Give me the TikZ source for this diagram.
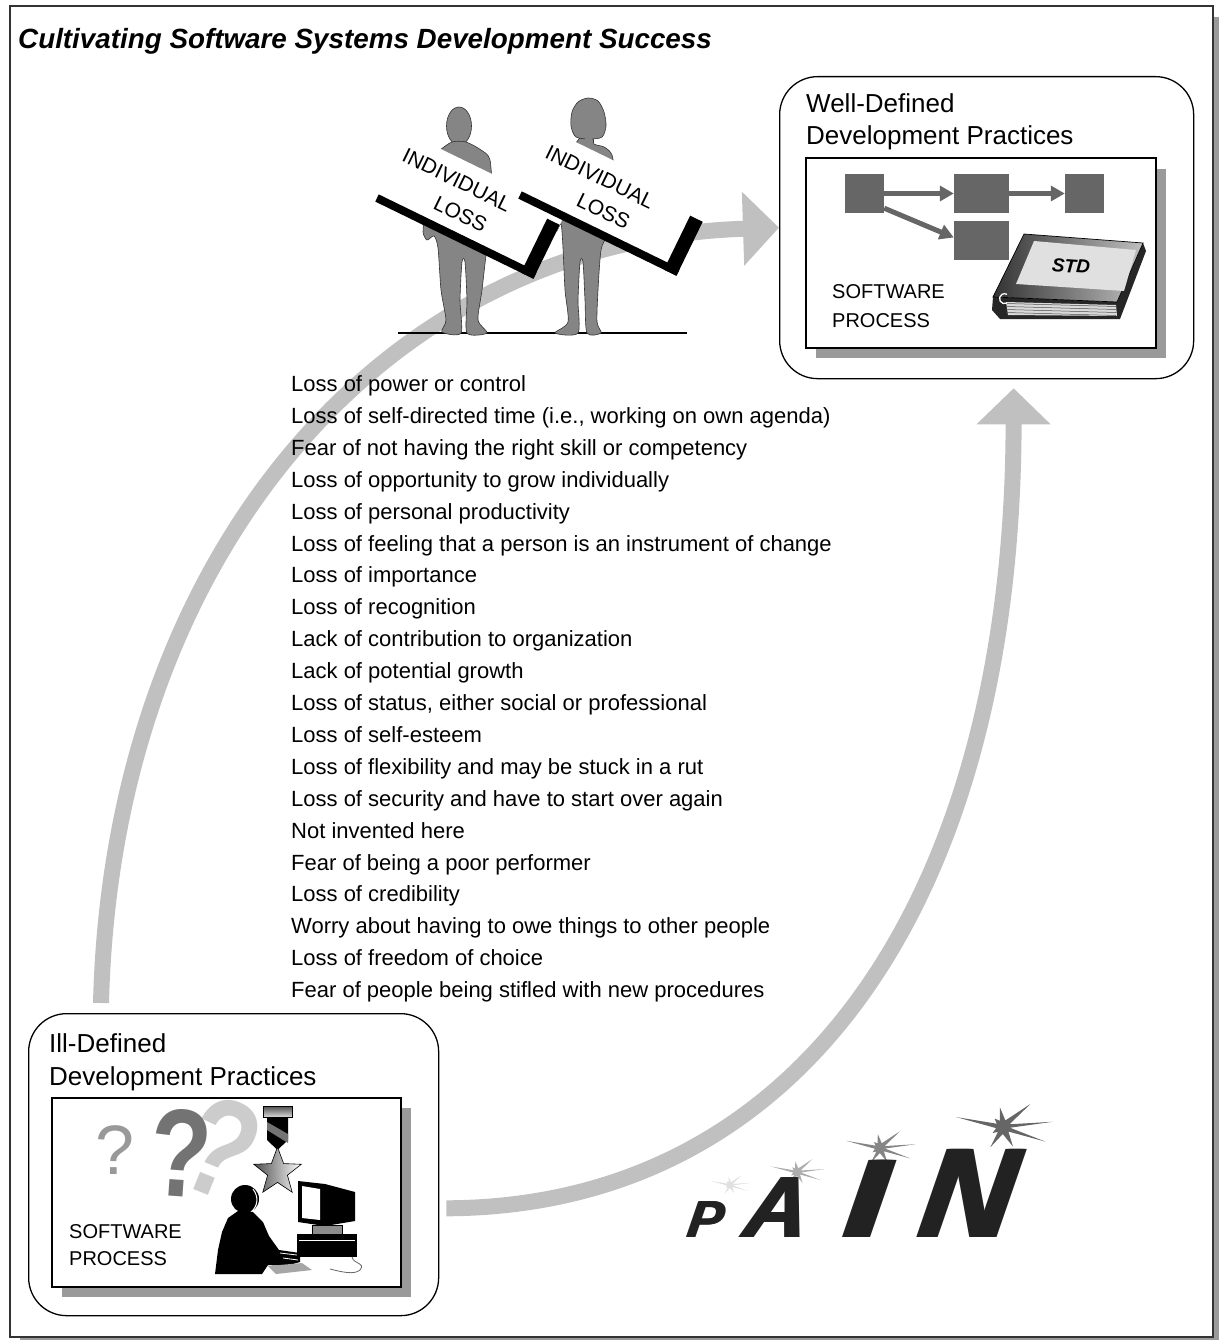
\documentclass[tikz,border=0pt]{standalone}
\usepackage{fontspec}
\setmainfont{Liberation Sans}
\usetikzlibrary{arrows.meta,shapes.geometric,calc}

\definecolor{bandgray}{HTML}{C0C0C0}
\definecolor{flowgray}{HTML}{666666}
\definecolor{figgray}{HTML}{858585}
\definecolor{shadowgray}{HTML}{9A9A9A}
\definecolor{framegray}{HTML}{333333}
\definecolor{inkblack}{HTML}{222222}

% a sign held by a person: white board, black lower edge and bracket
\newcommand\losssign[2]{%
  \begin{scope}[shift={#1}, rotate=-26]
    \fill[white] (0,-72) rectangle (176,0);
    \fill[black] (0,-4) rectangle (176,4);
    \fill[black] (162,-56) rectangle (176,4);
    \node[signtxt] (#2a) at (64,-51) {INDIVIDUAL};
    \node[signtxt] (#2b) at (82,-22) {LOSS};
  \end{scope}}

% irregular starburst above a letter
\newcommand\painburst[3]{%
  \begin{scope}[shift={#1}, scale=#2]
    \fill[#3] (354:50) -- (6:7) -- (19:45) -- (40:7) -- (63:22) -- (92:7)
      -- (122:24) -- (136:7) -- (150:12) -- (171:7) -- (192:48) -- (208:7)
      -- (225:12) -- (243:7) -- (261:20) -- (290:7) -- (320:36) -- (337:7) -- cycle;
  \end{scope}}

% heavy slanted letter: several slightly shifted copies
\newcommand\painletter[5]{% name, x, size, extra weight, letter
  \foreach \dx in {0,...,#4} {
    \node[painltr, font=\fontsize{#3}{#3}\selectfont\bfseries\itshape]
      (#1\dx) at ({#2+\dx},1237) {#5};
  }}

\begin{document}
\begin{tikzpicture}[x=1pt,y=-1pt,
  band/.style={draw=bandgray, line width=16, -{Triangle[length=36,width=72]}},
  box/.style={draw, line width=1.3, rounded corners=38, inner sep=0, anchor=north west},
  panel/.style={draw, line width=1.2, fill=white},
  sq/.style={fill=flowgray, inner sep=0},
  flow/.style={draw=flowgray, line width=5, -{Triangle[length=14,width=15]}},
  lbl/.style={anchor=base west, inner sep=0, font=\fontsize{26}{30}\selectfont},
  proclbl/.style={anchor=base west, inner sep=0, font=\fontsize{20}{24}\selectfont},
  listtxt/.style={anchor=base west, inner sep=0, font=\fontsize{22}{26}\selectfont},
  signtxt/.style={inner sep=0, transform shape, font=\fontsize{21}{23}\selectfont},
  personfig/.style={fill=figgray, draw=black!80, line width=0.6},
  painltr/.style={anchor=base west, inner sep=0, text=inkblack, xslant=0.15},
]
\useasboundingbox (0,0) rectangle (1219,1340);

% page frame with drop shadow
\fill[shadowgray] (20,1337) rectangle (1219,1340);
\fill[shadowgray] (1213,17) rectangle (1219,1340);
\draw[framegray, line width=2.5] (10,6) rectangle (1213,1337);

\node[anchor=base west, inner sep=0, font=\fontsize{27.8}{32}\selectfont\bfseries\itshape]
  (title) at (18,49) {Cultivating Software Systems Development Success};

% ---------- well-defined practices ----------
\node[box, minimum width=414, minimum height=302] (well) at (779,76) {};
\fill[shadowgray] (816,169) rectangle (1166,358);
\draw[panel] (806,158) rectangle (1156,348);
\node[lbl] (wellA) at (806,113) {Well-Defined};
\node[lbl] (wellB) at (806,145) {Development Practices};
\node[proclbl] (wsw1) at (832,298) {SOFTWARE};
\node[proclbl] (wsw2) at (832,327) {PROCESS};

\node[sq, minimum width=39, minimum height=39] (s1) at (864.5,193.5) {};
\node[sq, minimum width=55, minimum height=39] (s2) at (981.5,193.5) {};
\node[sq, minimum width=39, minimum height=39] (s3) at (1084.5,193.5) {};
\node[sq, minimum width=55, minimum height=39] (s4) at (981.5,240.5) {};
\draw[flow] (s1.east) -- (s2.west);
\draw[flow] (s2.east) -- (s3.west);
\draw[flow] ([yshift=5]s1.south east) -- ([yshift=3]s4.west);

% binder: page block, spine, cover and label
\fill[black!85] (993,297) -- (1117,302) -- (1143,243) -- (1146,251) -- (1120,319) -- (1000,319) -- (992,310) -- cycle;
\fill[black!15] (1006,302) -- (1116,305) -- (1117,316) -- (1008,315) -- cycle;
\foreach \k in {0,3,6,9} {
  \draw[black!70, line width=0.5] (1006,{303.5+\k}) -- (1116,{306.5+\k});
}
\shade[left color=black!80, right color=black!25, draw=black, line width=0.7]
  (1024,234) -- (1143,243) -- (1117,302) -- (993,297) -- cycle;
\fill[black!12] (1034,241) -- (1136,250) -- (1124,291) -- (1016,284) -- cycle;
\node[inner sep=0, rotate=-4, font=\fontsize{19}{19}\selectfont\bfseries\itshape] (std) at (1071,266) {STD};
\draw[white, line width=1.3] (1007,303) arc[start angle=60, end angle=300, radius=5];

% ---------- ill-defined practices ----------
\node[box, minimum width=410, minimum height=302] (ill) at (28,1013) {};
\fill[shadowgray] (62,1108) rectangle (411,1297);
\draw[panel] (52,1098) rectangle (401,1287);
\node[lbl] (illA) at (49,1052) {Ill-Defined};
\node[lbl] (illB) at (49,1085) {Development Practices};
\node[proclbl] (isw1) at (69,1238) {SOFTWARE};
\node[proclbl] (isw2) at (69,1265) {PROCESS};

% question marks
\node[inner sep=0, rotate=-22, text=black!20, font=\fontsize{140}{140}\selectfont\bfseries] (q3) at (222,1148) {\scalebox{0.8}[1]{?}};
\node[inner sep=0, rotate=-4, text=black!55, font=\fontsize{125}{125}\selectfont\bfseries] (q2) at (181,1153) {\scalebox{0.8}[1]{?}};
\node[inner sep=0, text=black!40, font=\fontsize{70}{70}\selectfont] (q1) at (115,1150) {?};

% medal
\shade[top color=black!70, bottom color=black!15, draw=black, line width=0.5] (263,1106) rectangle (292,1117);
\fill[black] (267,1117) -- (288,1117) -- (288,1140) -- (277.5,1150) -- (267,1140) -- cycle;
\fill[black!55] (267,1122) -- (267,1130) -- (288,1143) -- (288,1134) -- cycle;
\node[star, star points=5, star point ratio=2.4, minimum size=50, inner sep=0,
  draw, line width=0.6, left color=black!70, right color=white] (medal) at (277.5,1172) {};

% person at the computer
\fill[black] (245,1199) circle (14);
\draw[white, line width=1] (253,1189) .. controls (259,1197) and (258,1206) .. (251,1212);
\fill[black] (238,1211) -- (228,1218) -- (222,1232) -- (218,1250) -- (215,1274)
  -- (262,1274) -- (268,1265) -- (286,1266) -- (300,1262) -- (300,1253)
  -- (279,1250) -- (269,1236) -- (263,1222) -- (253,1212) -- cycle;
\draw[white, line width=0.8] (280,1253) -- (297,1255) (283,1258) -- (298,1260);
\fill[black!35] (268,1266) -- (302,1263) -- (312,1270) -- (276,1274) -- cycle;

% computer
\fill[black] (298,1181) -- (325,1184) -- (355,1192) -- (355,1221) -- (325,1226) -- (298,1222) -- cycle;
\fill[white] (302,1186) -- (320,1189) -- (320,1220) -- (302,1218) -- cycle;
\draw[black, fill=black!45, line width=0.6] (312,1225) rectangle (342,1234);
\fill[black] (297,1234) rectangle (357,1257);
\draw[white, line width=0.8] (299,1240) -- (355,1240);
\draw[black!60, line width=0.8] (352,1257) .. controls (354,1265) and (366,1262) .. (360,1270)
  .. controls (354,1275) and (342,1272) .. (330,1269);

% ---------- flow bands ----------
\draw[band] ($(ill.north west)+(73,-10)$) .. controls (112,560) and (380,240) .. (well.west);
\draw[band] ($(ill.south east)+(7,-108)$) .. controls (800,1207) and (1013,900) .. ($(well.south)+(27,9)$);

% ---------- list of losses ----------
\foreach \t [count=\i] in {
  {Loss of power or control},
  {Loss of self-directed time (i.e., working on own agenda)},
  {Fear of not having the right skill or competency},
  {Loss of opportunity to grow individually},
  {Loss of personal productivity},
  {Loss of feeling that a person is an instrument of change},
  {Loss of importance},
  {Loss of recognition},
  {Lack of contribution to organization},
  {Lack of potential growth},
  {Loss of status, either social or professional},
  {Loss of self-esteem},
  {Loss of flexibility and may be stuck in a rut},
  {Loss of security and have to start over again},
  {Not invented here},
  {Fear of being a poor performer},
  {Loss of credibility},
  {Worry about having to owe things to other people},
  {Loss of freedom of choice},
  {Fear of people being stifled with new procedures}} {
  \node[listtxt] (loss\i) at (291,{391.5+31.9*(\i-1)}) {\t};
}

% ---------- people carrying signs ----------
\draw[line width=2.5] (398,333) -- (687,333);

% man
\draw[personfig] (459,126) ellipse [x radius=12.5, y radius=19];
\draw[personfig] plot[smooth cycle, tension=0.45] coordinates {
  (452,142) (440,150) (431,158) (428,185) (425,215) (423,232) (427,240) (434,236)
  (438,248) (441,290) (446,320) (442,332) (461,333) (460,300) (462,262)
  (465,262) (467,300) (467,333) (487,333) (478,320) (482,290) (487,250)
  (494,240) (497,228) (493,200) (490,160) (481,150) (466,142)};
% woman
\draw[personfig] plot[smooth cycle, tension=0.45] coordinates {
  (582,136) (574,145) (564,150) (559,168) (555,200) (550,224) (556,232) (561,224)
  (563,248) (565,290) (568,322) (555,333) (578,333) (578,300) (580,262)
  (583,262) (585,300) (587,333) (601,333) (597,322) (598,290) (601,250)
  (607,236) (613,222) (615,180) (612,155) (604,147) (594,144) (593,136)};
\draw[personfig] plot[smooth cycle, tension=0.5] coordinates {
  (588,98) (598,101) (604,112) (606,126) (602,137) (590,139) (576,137)
  (571,126) (572,112) (578,102)};
\fill[figgray] (585,137) rectangle (592,146);

\losssign{(377,198)}{signA}
\losssign{(520,195)}{signB}

% ---------- PAIN ----------
\painburst{(730,1185)}{0.42}{black!12}
\painburst{(797,1172)}{0.56}{black!32}
\painburst{(880,1148)}{0.72}{black!48}
\painburst{(1003,1127)}{1}{black!60}
\painletter{pP}{685}{52}{2}{P}
\painletter{pA}{740}{87}{3}{A}
\painletter{pI}{840}{112}{12}{I}
\painletter{pN}{914}{128}{5}{N}
\end{tikzpicture}
\end{document}
